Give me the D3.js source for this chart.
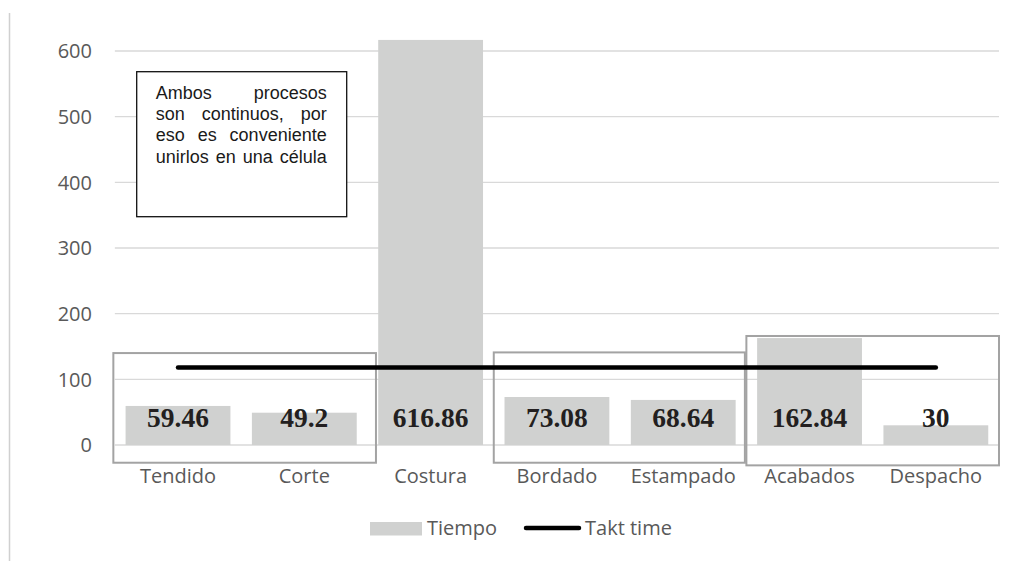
<!DOCTYPE html>
<html>
<head>
<meta charset="utf-8">
<script src="https://cdn.jsdelivr.net/npm/d3@7/dist/d3.min.js"></script>
<style>
  html, body { margin: 0; padding: 0; background: #fff; }
  svg { display: block; }
</style>
</head>
<body>
<svg id="chart" width="1014" height="562"></svg>
<script>
// Process steps and their cycle times
const categories = ["Tendido", "Corte", "Costura", "Bordado", "Estampado", "Acabados", "Despacho"];
const tiempo = [59.46, 49.2, 616.86, 73.08, 68.64, 162.84, 30];
const taktTime = 118;
const yTicks = [0, 100, 200, 300, 400, 500, 600];
const legendLabels = ["Tiempo", "Takt time"];

// Groups of processes that could be joined into one cell: [first, last, top value, bottom value]
const groupFirst = [0, 3, 5];
const groupLast = [1, 4, 6];
const groupTop = [140, 141, 166];
const groupBottom = [-27, -27, -31];

const noteLines = [
  ["Ambos", "procesos"],
  ["son", "continuos,", "por"],
  ["eso", "es", "conveniente"],
  ["unirlos", "en", "una", "célula"]
];

const svg = d3.select("#chart");
const left = 114.85, right = 999;
const yTop = 51, yBottom = 445;

const x = d3.scaleBand().domain(categories).range([left, right]).paddingInner(0.17).paddingOuter(0.085);
const y = d3.scaleLinear().domain([0, 600]).range([yBottom, yTop]);

const gray = "#595959";

// thin frame line on the left edge
svg.append("line")
  .attr("x1", 9.5).attr("x2", 9.5).attr("y1", 13).attr("y2", 561)
  .attr("stroke", "#d0d0d0").attr("stroke-width", 1.5);

// horizontal gridlines
svg.append("g").selectAll("line").data(yTicks).join("line")
  .attr("x1", left).attr("x2", right)
  .attr("y1", d => y(d)).attr("y2", d => y(d))
  .attr("stroke", "#d9d9d9").attr("stroke-width", 1.3);

// y tick labels
svg.append("g").selectAll("text").data(yTicks).join("text")
  .attr("x", 92).attr("y", d => y(d))
  .attr("dy", "0.36em")
  .attr("text-anchor", "end")
  .attr("font-family", "'Open Sans', sans-serif")
  .attr("font-size", 20)
  .attr("fill", gray)
  .text(d => d);

// bars
svg.append("g").selectAll("rect").data(tiempo).join("rect")
  .attr("x", (d, i) => x(categories[i]))
  .attr("width", x.bandwidth())
  .attr("y", d => y(d))
  .attr("height", d => y(0) - y(d))
  .attr("fill", "#d0d1d0");

// x category labels
svg.append("g").selectAll("text").data(categories).join("text")
  .attr("x", d => x(d) + x.bandwidth() / 2)
  .attr("y", 483)
  .attr("text-anchor", "middle")
  .attr("font-family", "'Open Sans', sans-serif")
  .attr("font-size", 20)
  .attr("fill", gray)
  .text(d => d);

// group boxes
const step = x.step();
const bandStart = i => left + i * step;
svg.append("g").selectAll("rect").data(groupFirst).join("rect")
  .attr("x", (d, i) => bandStart(d) - (i === 0 ? 1.5 : 0))
  .attr("width", (d, i) => bandStart(groupLast[i] + 1) - bandStart(d) + (i === 0 ? 10 : 0) - (i === 1 ? 1.5 : 0))
  .attr("y", (d, i) => y(groupTop[i]))
  .attr("height", (d, i) => y(groupBottom[i]) - y(groupTop[i]))
  .attr("fill", "none")
  .attr("stroke", "#a3a3a3")
  .attr("stroke-width", 2);

// takt time line
const cx = d => x(d) + x.bandwidth() / 2;
svg.append("line")
  .attr("x1", cx(categories[0])).attr("x2", cx(categories[categories.length - 1]))
  .attr("y1", y(taktTime)).attr("y2", y(taktTime))
  .attr("stroke", "#000").attr("stroke-width", 4.5)
  .attr("stroke-linecap", "round");

// value labels
svg.append("g").selectAll("text").data(tiempo).join("text")
  .attr("x", (d, i) => cx(categories[i]))
  .attr("y", 427)
  .attr("text-anchor", "middle")
  .attr("font-family", "'Liberation Serif', 'Times New Roman', serif")
  .attr("font-weight", "bold")
  .attr("font-size", 27.5)
  .attr("fill", "#231f20")
  .text(d => d);

// note box with justified text
const note = svg.append("g");
const boxX = 136.7, boxY = 71.7, boxW = 210, boxH = 145;
note.append("rect")
  .attr("x", boxX).attr("y", boxY).attr("width", boxW).attr("height", boxH)
  .attr("fill", "#fff").attr("stroke", "#111").attr("stroke-width", 1.3);
const textX = 155.7, textW = 171, lineH = 21.2, firstBase = 99;
noteLines.forEach((words, li) => {
  const t = note.append("text")
    .attr("font-family", "'Liberation Sans', Arial, sans-serif")
    .attr("font-size", 18)
    .attr("fill", "#1a1a1a");
  const spans = words.map(w => t.append("tspan").attr("y", firstBase + li * lineH).text(w));
  const widths = spans.map(s => s.node().getComputedTextLength());
  const total = d3.sum(widths);
  const gap = words.length > 1 ? (textW - total) / (words.length - 1) : 0;
  let pos = textX;
  spans.forEach((s, k) => { s.attr("x", pos); pos += widths[k] + gap; });
});

// legend
const lg = svg.append("g");
lg.append("rect").attr("x", 370).attr("y", 522).attr("width", 52).attr("height", 13.5).attr("fill", "#d0d1d0");
lg.append("text").attr("x", 427).attr("y", 528).attr("dy", "0.36em")
  .attr("font-family", "'Open Sans', sans-serif").attr("font-size", 20).attr("fill", gray)
  .text(legendLabels[0]);
lg.append("line").attr("x1", 526).attr("x2", 579).attr("y1", 528).attr("y2", 528)
  .attr("stroke", "#000").attr("stroke-width", 4.5).attr("stroke-linecap", "round");
lg.append("text").attr("x", 585).attr("y", 528).attr("dy", "0.36em")
  .attr("font-family", "'Open Sans', sans-serif").attr("font-size", 20).attr("fill", gray)
  .text(legendLabels[1]);
</script>
</body>
</html>
